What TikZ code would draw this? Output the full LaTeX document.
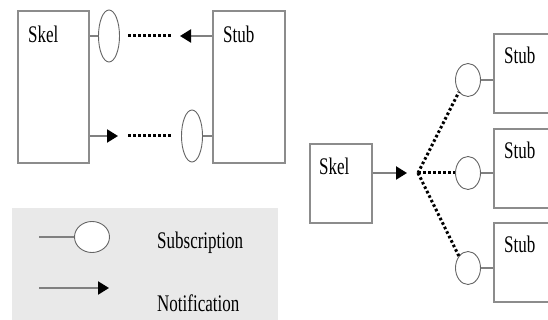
\documentclass[tikz,border=0pt]{standalone}
\usepackage{fontspec}
\setmainfont{Liberation Serif}
\usepackage{xcolor}
\usepackage{tikz}
\usetikzlibrary{arrows.meta, positioning, shapes.geometric}

\newcommand{\tallfont}[1]{\scalebox{1}[1.4]{#1}}

\begin{document}
\begin{tikzpicture}[x=1pt, y=-1pt,
    every node/.style={font=\fontsize{17}{17}\selectfont},
    box/.style={draw=gray!90, line width=2pt, fill=white, inner sep=0pt},
    boxlbl/.style={inner sep=0pt},
    plug/.style={draw=gray!80!black, line width=0.9pt, fill=white, ellipse, inner sep=0pt},
    wire/.style={draw=gray, line width=2.2pt},
    notify/.style={wire, -{Triangle[length=11pt, width=13pt, black]}},
    dots/.style={draw=black, line width=3pt, dash pattern=on 2.6pt off 2.4pt}]
    \useasboundingbox (0,0) rectangle (548,320);

    % Legend
    \fill[gray!17] (12,208) rectangle (278,322);
    \node[plug, minimum width=35pt, minimum height=31pt] (legplug) at (92,237) {};
    \coordinate (legwire) at (39,237);
    \draw[wire] (legwire) -- (legplug);
    \node[boxlbl, anchor=west] (subs) at (157,243) {\tallfont{Subscription}};
    \coordinate (legfrom) at (39,288);
    \coordinate (legto) at (109,288);
    \draw[notify] (legfrom) -- (legto);
    \node[boxlbl, anchor=west] (notif) at (157,303) {\tallfont{Notification}};

    % One skeleton and one stub
    \node[box, minimum width=71pt, minimum height=152pt, anchor=north west] (skelA) at (17,10) {};
    \node[boxlbl, below right=16pt and 11pt of skelA.north west] {\tallfont{Skel}};
    \node[box, minimum width=72pt, minimum height=152pt, anchor=north west] (stubA) at (212,10) {};
    \node[boxlbl, below right=16pt and 11pt of stubA.north west] {\tallfont{Stub}};

    \node[plug, minimum width=21pt, minimum height=52pt] (plugA) at (109,36) {};
    \draw[wire] (skelA.east |- plugA) -- (plugA);
    \coordinate (dotsA1) at (128,36);
    \coordinate (dotsA2) at (172,36);
    \draw[dots] (dotsA1) -- (dotsA2);
    \coordinate (tipA) at (180,36);
    \draw[notify] (stubA.west |- tipA) -- (tipA);

    \node[plug, minimum width=21pt, minimum height=52pt] (plugB) at (192,136) {};
    \draw[wire] (plugB) -- (stubA.west |- plugB);
    \coordinate (tipB) at (118,136);
    \draw[notify] (skelA.east |- tipB) -- (tipB);
    \coordinate (dotsB1) at (128,136);
    \coordinate (dotsB2) at (172,136);
    \draw[dots] (dotsB1) -- (dotsB2);

    % One skeleton and many stubs
    \node[box, minimum width=62pt, minimum height=79pt, anchor=north west] (skelB) at (309,143) {};
    \node[boxlbl, below right=15pt and 10pt of skelB.north west] {\tallfont{Skel}};
    \coordinate (tipC) at (407,173);
    \draw[notify] (skelB.east |- tipC) -- (tipC);
    \coordinate (fan) at (418,173);

    \foreach \i/\top/\py in {1/33/80, 2/128/173, 3/222/268} {
        \node[box, minimum width=70pt, minimum height=79pt, anchor=north west] (stub\i) at (493,\top) {};
        \node[boxlbl, below right=14pt and 11pt of stub\i.north west] {\tallfont{Stub}};
        \node[plug, minimum width=25pt, minimum height=33pt] (plug\i) at (468,\py) {};
        \draw[wire] (plug\i) -- (stub\i.west |- plug\i);
    }
    \draw[dots] (fan) -- (plug1.south west);
    \draw[dots] (fan) -- (plug2.west);
    \draw[dots] (fan) -- (plug3.north west);
\end{tikzpicture}
\end{document}
